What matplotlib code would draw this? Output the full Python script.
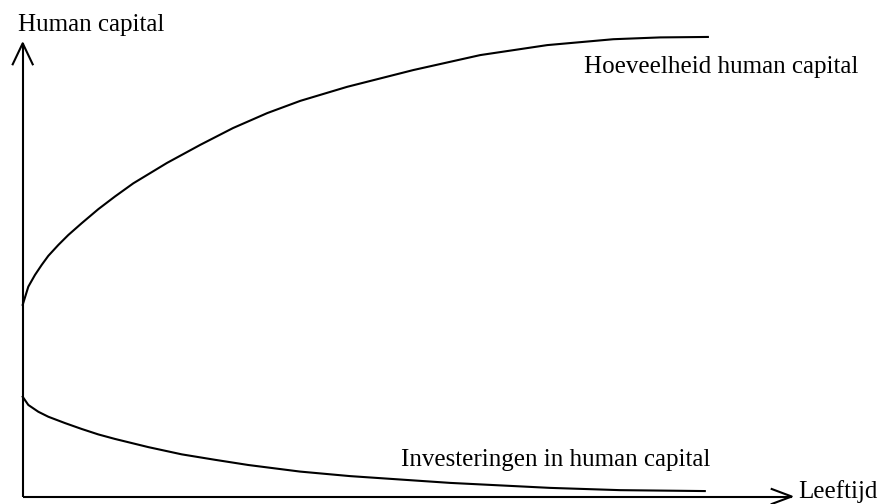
import matplotlib
matplotlib.use("Agg")
import matplotlib.pyplot as plt

# Age (x) and human capital (y) readings, arbitrary units (axis length = 100)
age_stock = [0, 0.73, 1.60, 2.47, 3.33, 4.63, 5.93, 7.67, 9.83, 12.0, 14.38, 18.76, 23.1,
             27.35, 31.8, 36.1, 42.2, 50.8, 59.5, 68.2, 76.8, 82.9, 89.1]
stock = [42.3, 46.3, 48.9, 51.1, 53.1, 55.5, 57.7, 60.3, 63.4, 66.2, 69.1, 73.6, 77.6,
         81.3, 84.6, 87.3, 90.4, 94.1, 97.4, 99.6, 100.9, 101.3, 101.4]

age_invest = [0, 0.73, 2.03, 3.33, 5.50, 7.67, 9.83, 12.0, 16.33, 20.68, 25.0, 29.34,
              36.06, 42.56, 55.6, 68.6, 77.7, 88.7]
invest = [22.0, 20.2, 18.7, 17.6, 16.2, 14.9, 13.7, 12.7, 10.9, 9.3, 8.1, 6.95,
          5.5, 4.5, 3.0, 1.9, 1.4, 1.2]

y_label = "Human capital"
x_label = "Leeftijd"
stock_label = "Hoeveelheid human capital"
invest_label = "Investeringen in human capital"

plt.rcParams['font.family'] = ['Liberation Serif', 'DejaVu Serif']

W, H = 881, 504
fig = plt.figure(figsize=(W / 100, H / 100), dpi=100)
ox, oy = 22.7, 496.5
tx, ty = 791.7, 43.3
ax = fig.add_axes([ox / W, (H - oy) / H, (tx - ox) / W, (oy - ty) / H])
ax.set_xlim(0, 100)
ax.set_ylim(0, 100)
ax.axis('off')

lw = 1.5
# axes lines
ax.plot([0, 0], [0, 100], color='black', lw=lw, clip_on=False, solid_capstyle='butt')
ax.plot([0, 100], [0, 0], color='black', lw=lw, clip_on=False, solid_capstyle='butt')
# arrowheads (open V shape) in axes-fraction coordinates
sx = 1 / (tx - ox)
sy = 1 / (oy - ty)
ax.plot([-10 * sx, 0, 10 * sx], [1 - 21 * sy, 1, 1 - 21 * sy], color='black', lw=lw,
        transform=ax.transAxes, clip_on=False)
ax.plot([1 - 20 * sx, 1, 1 - 20 * sx], [7.5 * sy, 0, -7.5 * sy], color='black', lw=lw,
        transform=ax.transAxes, clip_on=False)

ax.plot(age_stock, stock, color='black', lw=lw, clip_on=False, solid_joinstyle='round')
ax.plot(age_invest, invest, color='black', lw=lw, clip_on=False, solid_joinstyle='round')

fs = 18
ax.text(-0.6, 102.8, y_label, fontsize=fs, ha='left', va='baseline')
ax.text(73.0, 93.4, stock_label, fontsize=fs, ha='left', va='baseline')
ax.text(49.2, 6.7, invest_label, fontsize=fs, ha='left', va='baseline')
ax.text(100.8, -0.3, x_label, fontsize=fs, ha='left', va='baseline')

fig.savefig("out.png", dpi=100)
